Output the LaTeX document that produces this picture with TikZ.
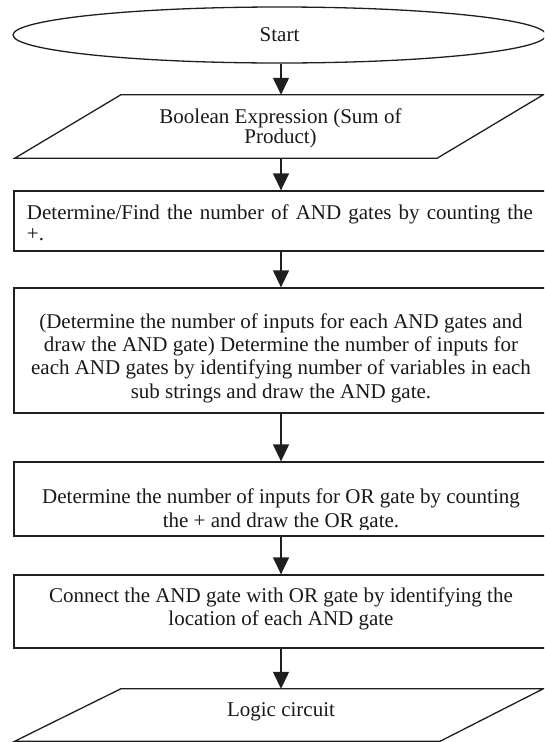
\documentclass[tikz,border=0pt]{standalone}
\usepackage{fontspec}
\setmainfont{Liberation Serif}
\usetikzlibrary{calc, shapes.geometric, arrows.meta}
\begin{document}
\begin{tikzpicture}[x=1pt, y=-1pt,
  every node/.style={font=\fontsize{21}{23.4}\selectfont, text=black!90},
  shapeline/.style={draw=black!88, line width=1.3pt},
  boxnode/.style={shapeline, rectangle, inner sep=0pt, minimum width=534pt},
  ionode/.style={rectangle, inner sep=0pt, minimum width=528pt},
  txt/.style={inner sep=0pt, align=center},
  arr/.style={draw=black!88, line width=1.3pt, -{Triangle[width=16pt,length=17pt]}}
]
\useasboundingbox (0,0) rectangle (544,742);
\clip (0,0) rectangle (544,742);
\coordinate (ax) at (281,0);

% Start
\node[shapeline, ellipse, inner sep=0pt, minimum width=533pt, minimum height=56pt] (start) at (279.5,35) {Start};

% input parallelogram
\node[ionode, minimum height=63pt] (p1) at (279,126.5) {};
\draw[shapeline, line join=miter] (p1.south west) -- ($(p1.north west)+(106,0)$) -- (p1.north east) -- ($(p1.south east)+(-106,0)$) -- cycle;
\node[txt, font=\fontsize{21}{20.5}\selectfont] (p1t) at (280.5,128.5) {Boolean Expression (Sum of\\Product)};

% box 1
\node[boxnode, minimum height=60pt] (b1) at (281,221) {};
\node[inner sep=0pt, text width=506pt, align=justify, font=\fontsize{21}{21}\selectfont] (b1t) at (280,223) {Determine/Find the number of AND gates by counting the\linebreak +.};

% box 2
\node[boxnode, minimum height=125pt] (b2) at (281,350.5) {};
\node[txt] (b2t) at (281,358) {(Determine the number of inputs for each AND gates and\\draw the AND gate) Determine the number of inputs for\\each AND gates by identifying number of variables in each\\sub strings and draw the AND gate.};

% box 3
\node[boxnode, minimum height=74pt] (b3) at (281,499) {};
\begin{scope}
\clip (20,470) rectangle (540,529.5);
\node[txt] (b3t) at (281,510.5) {Determine the number of inputs for OR gate by counting\\the + and draw the OR gate.};
\end{scope}

% box 4
\node[boxnode, minimum height=73pt] (b4) at (281,611.5) {};
\node[txt] (b4t) at (281,608.8) {Connect the AND gate with OR gate by identifying the\\location of each AND gate};

% output parallelogram
\node[ionode, minimum height=52pt] (p2) at (279,715) {};
\draw[shapeline, line join=miter] (p2.south west) -- ($(p2.north west)+(106,0)$) -- (p2.north east) -- ($(p2.south east)+(-103,0)$) -- cycle;
\node[txt] (p2t) at (281,711.5) {Logic circuit};

% connectors
\draw[arr] (start.south -| ax) -- (p1.north -| ax);
\draw[arr] (p1.south -| ax) -- (b1.north -| ax);
\draw[arr] (b1.south -| ax) -- (b2.north -| ax);
\draw[arr] (b2.south -| ax) -- (b3.north -| ax);
\draw[arr] (b3.south -| ax) -- (b4.north -| ax);
\draw[arr] (b4.south -| ax) -- (p2.north -| ax);
\end{tikzpicture}
\end{document}
